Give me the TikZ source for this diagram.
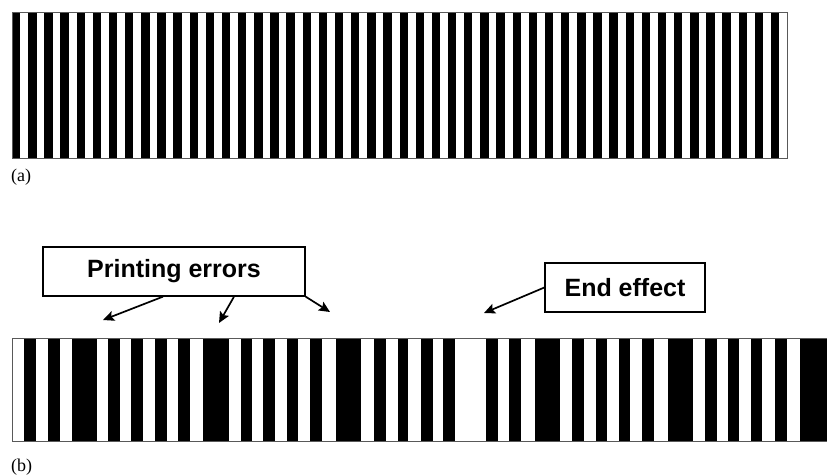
\documentclass[tikz,border=0pt]{standalone}
\usepackage{fontspec}
\setmainfont{Liberation Serif}
\newfontfamily\arialfont{Liberation Sans}
\usetikzlibrary{arrows.meta}
\begin{document}
\begin{tikzpicture}[x=1pt,y=-1pt,
  callout/.style={draw=black, line width=1.3pt, fill=white, inner sep=0pt,
    font=\arialfont\bfseries\fontsize{25}{30}\selectfont},
  pointer/.style={line width=1.7pt, -{Stealth[length=11pt,width=10pt,inset=2pt]}},
  panel/.style={font=\fontsize{18}{21}\selectfont, inner sep=0pt, anchor=west},
  bar/.style={fill=black},
  frame/.style={draw=black!65, line width=0.9pt}]
\useasboundingbox (0,0) rectangle (827,476);
\fill[white] (0,0) rectangle (827,476);
% (a) regular pattern
\foreach \i in {0,...,47}
  \fill[bar] ({12+\i*16.1458},12) rectangle ({12+\i*16.1458+8.4},158);
\draw[frame] (12,12) rectangle (787,158);
\node[panel] (la) at (11,177.5) {(a)};
% (b) printed pattern with errors
\foreach \a/\b in {24/36,48/60,72/97,108/120,131/143,155/167,178/190,203/229,
  241/252,263/275,287/298,310/322,336/361,374/386,398/408,421/433,443/455,
  486/498,509/521,535/560,572/584,596/607,619/630,642/654,668/693,705/717,
  728/739,751/762,775/787,800/830}
  \fill[bar] (\a,338) rectangle (\b,441);
\draw[frame] (830,338) -- (12,338) -- (12,441) -- (830,441);
\node[panel] (lb) at (11,467.5) {(b)};
% callouts
\node[callout, minimum width=262pt, minimum height=49pt] (pe) at (174,271.5) {Printing errors};
\node[callout, minimum width=160pt, minimum height=49pt] (ee) at (625,287.5) {End effect};
\coordinate (t1) at (103,320);
\coordinate (t2) at (219,323);
\coordinate (t3) at (330,312);
\coordinate (t4) at (484,313);
\draw[pointer] ([xshift=-11pt]pe.south) -- (t1);
\draw[pointer] ([xshift=60pt]pe.south) -- (t2);
\draw[pointer] (pe.south east) -- (t3);
\draw[pointer] (ee.west) -- (t4);
\end{tikzpicture}
\end{document}
